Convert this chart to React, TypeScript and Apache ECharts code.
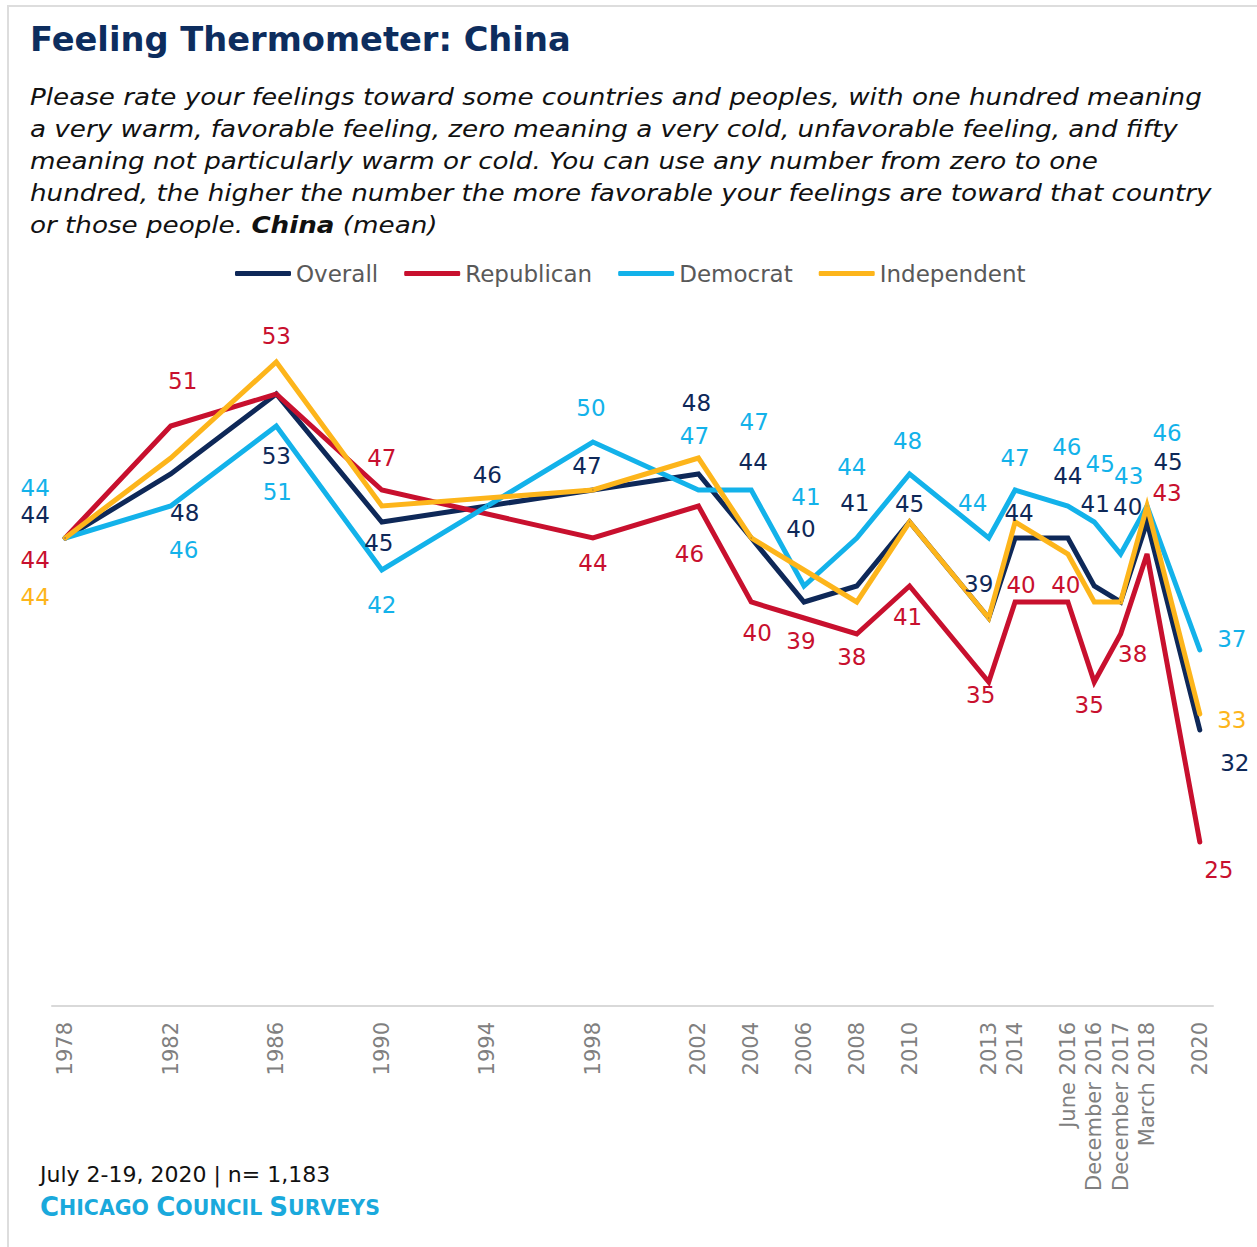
import React, { useEffect, useRef } from 'react';
import * as echarts from 'echarts';

// Category slots along the x axis (one slot per year-like position)
const categories = [
  '1978', '1979', '1980', '1981', '1982', '1983', '1984', '1985', '1986', '1987',
  '1988', '1989', '1990', '1991', '1992', '1993', '1994', '1995', '1996', '1997',
  '1998', '1999', '2000', '2001', '2002', '2003', '2004', '2005', '2006', '2007',
  '2008', '2009', '2010', '2011', '2012', '2013', '2014', '2015',
  'June 2016', 'December 2016', 'December 2017', 'March 2018', '2019', '2020',
];

// Survey waves (these are also the visible tick labels)
const surveyLabels = [
  '1978', '1982', '1986', '1990', '1994', '1998', '2002', '2004', '2006', '2008',
  '2010', '2013', '2014', 'June 2016', 'December 2016', 'December 2017', 'March 2018', '2020',
];

const overall = [44, 48, 53, 45, 46, 47, 48, 44, 40, 41, 45, 39, 44, 44, 41, 40, 45, 32];
const republican = [44, 51, 53, 47, null, 44, 46, 40, 39, 38, 41, 35, 40, 40, 35, 38, 43, 25];
const democrat = [44, 46, 51, 42, null, 50, 47, 47, 41, 44, 48, 44, 47, 46, 45, 43, 46, 37];
const independent = [44, 49, 55, 46, null, 47, 49, 44, 42, 40, 45, 39, 45, 43, 40, 40, 46, 33];

// Label placement (pixel offsets from each point; null = no label)
const overallLabelOffsets = [
  [-30, -23], [14, 39], [0, 62], [-3, 21], [0, -31], [-6, -24], [-2, -71], [2, -76], [-3, -73],
  [-2, -83], [0, -18], [-10, -34], [4, -25], [0, -62], [1, -82], [7, -95], [21, -60], [35, 33],
];
const republicanLabelOffsets = [
  [-30, 22], [12, -45], [0, -58], [0, -32], null, [0, 25], [-9, 48], [6, 31], [-3, 23],
  [-5, 23], [-2, 31], [-8, 13], [6, -17], [-2, -17], [-5, 23], [12, 20], [20, -61], [19, 28],
];
const democratLabelOffsets = [
  [-30, -50], [13, 44], [1, 66], [0, 35], null, [-2, -34], [-4, -54], [3, -68], [2, -89],
  [-5, -71], [-2, -33], [-16, -35], [0, -32], [-1, -59], [6, -58], [8, -78], [20, -73], [32, -11],
];
const independentLabelOffsets = [
  [-30, 59], null, null, null, null, null, null, null, null,
  null, null, null, null, null, null, null, null, [32, 6],
];

const subtitleLines = [
  'Please rate your feelings toward some countries and peoples, with one hundred meaning',
  'a very warm, favorable feeling, zero meaning a very cold, unfavorable feeling, and fifty',
  'meaning not particularly warm or cold. You can use any number from zero to one',
  'hundred, the higher the number the more favorable your feelings are toward that country',
  'or those people. {b|China} (mean)',
];

const FONT = '"DejaVu Sans", Inter, sans-serif';
const NAVY = '#0E2858';
const RED = '#C8102E';
const CYAN = '#13B2EA';
const YELLOW = '#FDB51B';

const SUB_SIZE = 23.5;
const SUB_FIRST_LINE_WIDTH = 1173;

function measure(text: string, font: string) {
  const c = document.createElement('canvas').getContext('2d');
  if (!c) return 0;
  c.font = font;
  return c.measureText(text).width;
}

function buildData(values: (number | null)[], offsets: (number[] | null)[]) {
  return categories.map((c) => {
    const i = surveyLabels.indexOf(c);
    if (i < 0) return null;
    const v = values[i];
    if (v == null) return null;
    const off = offsets[i];
    if (off) return { value: v, label: { show: true, offset: off } };
    return v;
  });
}

function makeSeries(name: string, color: string, values: (number | null)[], offsets: (number[] | null)[]) {
  return {
    name,
    type: 'line',
    data: buildData(values, offsets),
    connectNulls: true,
    showSymbol: true,
    showAllSymbol: true,
    symbol: 'circle',
    symbolSize: 1,
    color,
    itemStyle: { color },
    lineStyle: { color, width: 5, join: 'miter', cap: 'round' },
    label: {
      show: false,
      position: 'inside',
      color,
      fontSize: 23,
      fontFamily: FONT,
    },
    silent: true,
    emphasis: { disabled: true },
  };
}

export default function App() {
  const ref = useRef<HTMLDivElement>(null);
  useEffect(() => {
    document.body.style.margin = '0';
    if (!ref.current) return;
    const chart = echarts.init(ref.current, undefined, { renderer: 'svg' });

    const measured = measure(subtitleLines[0], `italic ${SUB_SIZE}px "DejaVu Sans"`);
    const subScale = measured > 0 ? SUB_FIRST_LINE_WIDTH / measured : 1;

    const graphic: any[] = [
      {
        type: 'rect',
        silent: true,
        shape: { x: 8, y: 6, width: 1400, height: 1400 },
        style: { fill: 'none', stroke: '#DDDDDD', lineWidth: 2 },
      },
      {
        type: 'text',
        x: 30,
        y: 39,
        style: {
          text: 'Feeling Thermometer: China',
          fontSize: 33.7,
          fontWeight: 'bold',
          fontFamily: FONT,
          fill: '#0D2D5E',
          verticalAlign: 'middle',
        },
      },
      ...subtitleLines.map((t, i) => ({
        type: 'text',
        x: 30,
        y: 97 + i * 32,
        scaleX: subScale,
        style: {
          text: t,
          fontSize: SUB_SIZE,
          fontStyle: 'italic',
          fontFamily: FONT,
          fill: '#111111',
          verticalAlign: 'middle',
          rich: {
            b: {
              fontSize: SUB_SIZE,
              fontStyle: 'italic',
              fontWeight: 'bold',
              fontFamily: FONT,
              color: '#000000',
            },
          },
        },
      })),
      {
        type: 'text',
        x: 40,
        y: 1174,
        style: {
          text: 'July 2-19, 2020 | n= 1,183',
          fontSize: 22,
          fontFamily: FONT,
          fill: '#111111',
          verticalAlign: 'middle',
        },
      },
      {
        type: 'text',
        x: 40,
        y: 1206,
        style: {
          text: '{a|C}{b|HICAGO }{a|C}{b|OUNCIL }{a|S}{b|URVEYS}',
          fill: '#1AA9DC',
          verticalAlign: 'middle',
          rich: {
            a: { fontSize: 26, fontWeight: 'bold', fontFamily: FONT, color: '#1AA9DC', verticalAlign: 'bottom', lineHeight: 27 },
            b: { fontSize: 20.5, fontWeight: 'bold', fontFamily: FONT, color: '#1AA9DC', verticalAlign: 'bottom', lineHeight: 27, padding: [0, 0, 1, 0] },
          },
        },
      },
    ];

    chart.setOption({
      animation: false,
      backgroundColor: '#ffffff',
      legend: {
        top: 257,
        left: 230,
        itemWidth: 56,
        itemHeight: 5,
        itemGap: 26,
        icon: 'roundRect',
        textStyle: { fontSize: 23, color: '#595959', fontFamily: FONT },
        data: ['Overall', 'Republican', 'Democrat', 'Independent'],
        selectedMode: false,
      },
      grid: { left: 52, right: 44, top: 286, bottom: 241, containLabel: false },
      xAxis: {
        type: 'category',
        data: categories,
        boundaryGap: true,
        axisLine: { lineStyle: { color: '#D9D9D9', width: 2 } },
        axisTick: { show: false },
        axisLabel: {
          interval: 0,
          rotate: 90,
          margin: 16,
          fontSize: 21,
          color: '#7F7F7F',
          fontFamily: FONT,
          formatter: (v: string) => (surveyLabels.includes(v) ? v : ''),
        },
      },
      yAxis: { type: 'value', min: 14.75, max: 59.75, show: false, splitLine: { show: false } },
      graphic,
      series: [
        makeSeries('Overall', NAVY, overall, overallLabelOffsets),
        makeSeries('Republican', RED, republican, republicanLabelOffsets),
        makeSeries('Democrat', CYAN, democrat, democratLabelOffsets),
        makeSeries('Independent', YELLOW, independent, independentLabelOffsets),
      ],
    });
    return () => chart.dispose();
  }, []);
  return <div ref={ref} style={{ width: 1257, height: 1247 }} />;
}
